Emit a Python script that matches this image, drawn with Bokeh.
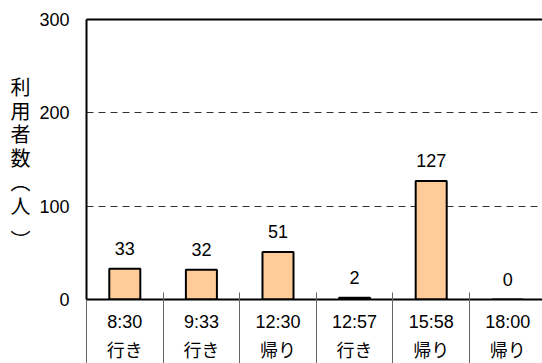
from bokeh.plotting import figure
from bokeh.models import (LinearAxis, FixedTicker, Range1d, ColumnDataSource)
from bokeh.embed import file_html
from bokeh.resources import INLINE

# ---- data ----
times = ["8:30", "9:33", "12:30", "12:57", "15:58", "18:00"]
directions = ["行き", "行き", "帰り", "行き", "帰り", "帰り"]
counts = [33, 32, 51, 2, 127, 0]
y_ticks = [0, 100, 200, 300]
y_label_chars = ["利", "用", "者", "数", "︵", "人", "︶"]

LAT = "Liberation Sans, Noto Sans CJK JP"

n = len(times)
centers = [i + 0.5 for i in range(n)]
bounds = [float(i) for i in range(n + 1)]

W, H = 542, 363
FRAME_LEFT, FRAME_TOP, FRAME_BOTTOM = 86, 19, 300
YMAX = 300
p = figure(width=W, height=H, output_backend="svg", toolbar_location=None,
           x_range=Range1d(0, 5.953), y_range=Range1d(0, YMAX),
           min_border_left=FRAME_LEFT, min_border_right=0, min_border_top=FRAME_TOP,
           min_border_bottom=H - FRAME_BOTTOM)
p.outline_line_color = None
p.background_fill_color = "white"
p.border_fill_color = "white"

src = ColumnDataSource(dict(x=centers, top=counts,
                            lab=[str(c) for c in counts]))
p.vbar(x="x", top="top", width=0.405, source=src,
       fill_color="#FFCC99", line_color="black", line_width=2)
p.text(x="x", y="top", text="lab", source=src, y_offset=-20,
       text_align="center", text_baseline="middle",
       text_font_size="18px", text_color="black",
       text_font={"value": LAT})

# grid
p.xgrid.visible = False
p.ygrid.ticker = FixedTicker(ticks=[t for t in y_ticks if 0 < t < YMAX])
p.ygrid.grid_line_color = "#333333"
p.ygrid.grid_line_dash = "7 5"
p.ygrid.grid_line_width = 1

# y axis
ya = p.yaxis[0]
ya.ticker = FixedTicker(ticks=y_ticks)
ya.major_tick_in = 0
ya.major_tick_out = 0
ya.minor_tick_line_color = None
ya.axis_line_width = 2
ya.axis_line_color = "black"
ya.major_label_text_font_size = "18px"
ya.major_label_text_font = LAT
ya.major_label_text_color = "black"
ya.major_label_standoff = 17

# vertical y-axis title, written one character per row as a second left axis
px_per_unit = (FRAME_BOTTOM - FRAME_TOP) / YMAX
title_rows_px = [86, 110, 133, 157, 182, 206, 240]   # layout (screen rows)
title_ticks = [(FRAME_BOTTOM - r) / px_per_unit for r in title_rows_px]
ya2 = LinearAxis(ticker=FixedTicker(ticks=title_ticks),
                 major_label_overrides={t: c for t, c in zip(title_ticks, y_label_chars)})
ya2.axis_line_color = None
ya2.major_tick_line_color = None
ya2.minor_tick_line_color = None
ya2.major_label_text_font_size = "20px"
ya2.major_label_text_font = "Noto Sans CJK JP"
ya2.major_label_text_color = "black"
ya2.major_label_standoff = 0
p.add_layout(ya2, "left")

# x axis 1 (times)
xa = p.xaxis[0]
xa.ticker = FixedTicker(ticks=centers, minor_ticks=bounds)
xa.major_label_overrides = {c: t for c, t in zip(centers, times)}
xa.major_tick_in = 0
xa.major_tick_out = 0
xa.minor_tick_in = 7
xa.minor_tick_out = 0
xa.minor_tick_line_color = "#666666"
xa.minor_tick_line_width = 1
xa.axis_line_width = 2
xa.axis_line_color = "black"
xa.major_label_text_font_size = "18px"
xa.major_label_text_font = LAT
xa.major_label_text_color = "black"
xa.major_label_standoff = 12

# x axis 2 (directions)
xa2 = LinearAxis(ticker=FixedTicker(ticks=centers),
                 major_label_overrides={c: d for c, d in zip(centers, directions)})
xa2.axis_line_color = None
xa2.major_tick_line_color = None
xa2.minor_tick_line_color = None
xa2.major_label_text_font_size = "18px"
xa2.major_label_text_font = LAT
xa2.major_label_text_color = "black"
xa2.major_label_standoff = 0
p.add_layout(xa2, "below")

# x axis 3: category separators running down through the label rows
xa3 = LinearAxis(ticker=FixedTicker(ticks=[], minor_ticks=bounds))
xa3.axis_line_color = None
xa3.major_tick_line_color = None
xa3.minor_tick_in = 66
xa3.minor_tick_out = 0
xa3.minor_tick_line_color = "#666666"
xa3.minor_tick_line_width = 1
xa3.major_label_text_font_size = "0px"
xa3.major_label_standoff = 0
p.add_layout(xa3, "below")

# top border
top = LinearAxis(ticker=FixedTicker(ticks=[]))
top.axis_line_width = 2
top.axis_line_color = "black"
top.major_tick_line_color = None
top.minor_tick_line_color = None
top.major_label_text_font_size = "0px"
p.add_layout(top, "above")

open("out.html", "w").write(file_html(p, INLINE))
